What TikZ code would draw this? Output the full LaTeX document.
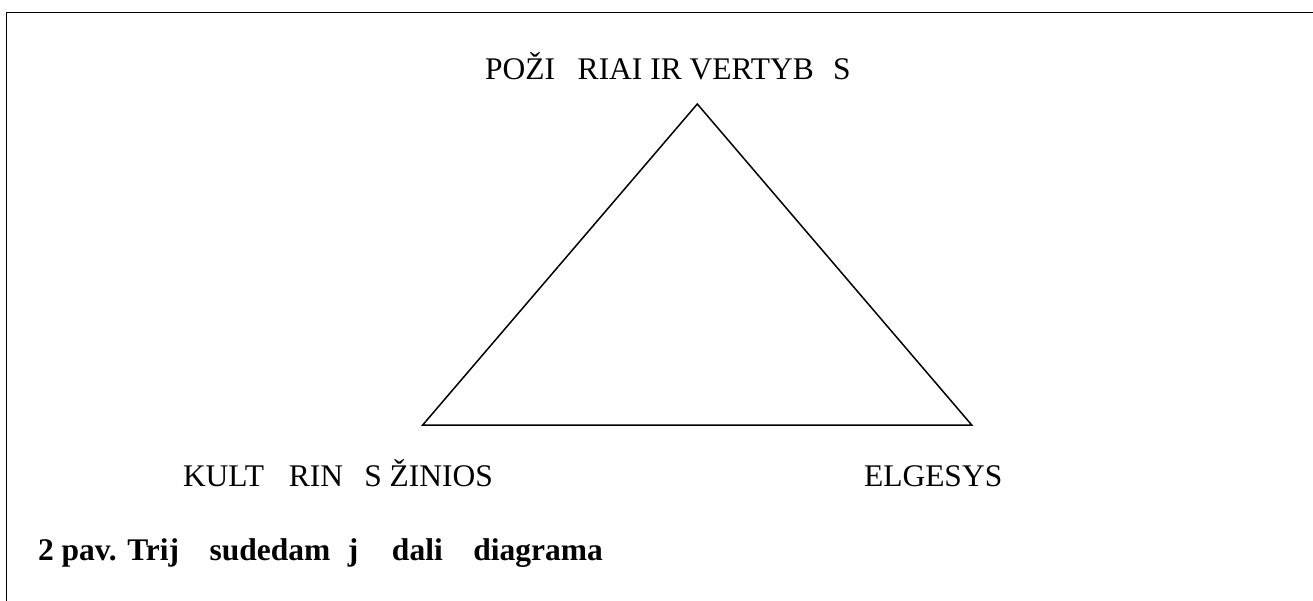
\documentclass[tikz,border=0pt]{standalone}
\usepackage{fontspec}
\setmainfont{Liberation Serif}
\begin{document}
\begin{tikzpicture}[x=1pt,y=-1pt,
  lbl/.style={anchor=base west,inner sep=0pt,outer sep=0pt,font=\fontsize{31.5}{38}\selectfont},
  captext/.style={lbl,font=\fontsize{31.5}{38}\selectfont\bfseries},
  edge/.style={line width=1.5pt,line join=miter}]
\useasboundingbox (0,0) rectangle (1313,601);
% frame
\coordinate (fb) at (6.7,601);
\coordinate (fc) at (6.7,12.3);
\coordinate (fr) at (1313,12.3);
\draw[line width=1.5pt] (fb) -- (fc) -- (fr);
% triangle
\coordinate (apex) at (697.3,104);
\coordinate (bl) at (422.7,425);
\coordinate (br) at (971.7,425);
\draw[edge] (apex) -- (bl) -- (br) -- cycle;
% labels
\node[lbl] (top) at (485,80) {POŽI\phantom{U}RIAI IR VERTYB\phantom{E}S};
\node[lbl] (left) at (183,486) {KULT\phantom{U}\hspace{2pt}RIN\phantom{E}\hspace{2pt}S ŽINIOS};
\node[lbl] (right) at (864,486) {ELGESYS};
\node[captext] (caption) at (38,560) {2 pav. Trij\phantom{u}\hspace{13pt}sudedam\phantom{u}j\phantom{u}\hspace{16pt}dali\phantom{u}\hspace{13pt}diagrama};
\end{tikzpicture}
\end{document}
